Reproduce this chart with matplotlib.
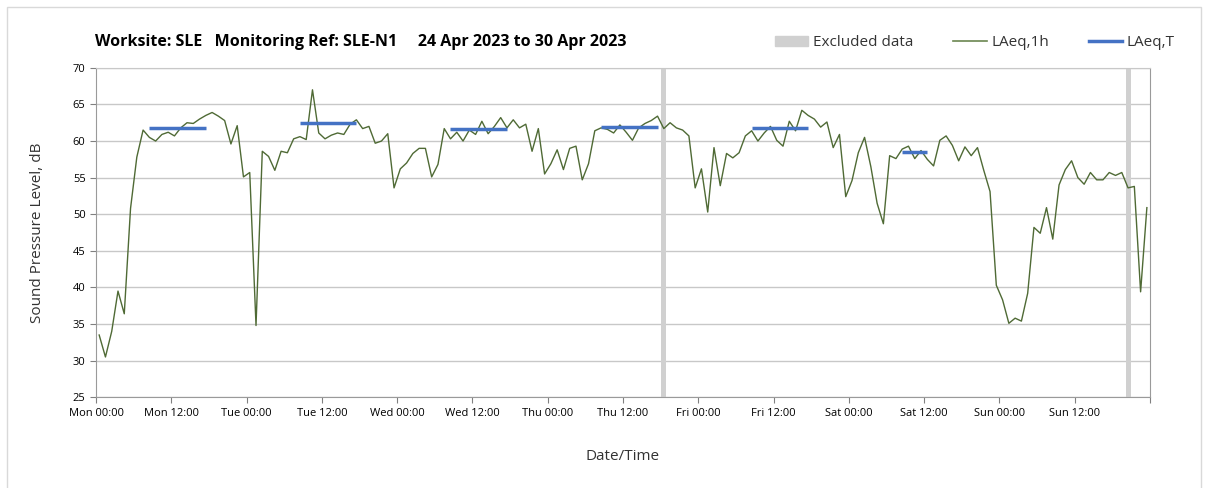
import matplotlib
matplotlib.use("Agg")
import matplotlib.pyplot as plt
import matplotlib.patches as mpatches
from matplotlib.lines import Line2D
import numpy as np

plt.rcParams['font.family'] = ['Open Sans', 'DejaVu Sans']

# hourly LAeq,1h values, Mon 24 Apr 00:00 onwards (one per hour)
laeq_1h = [
    33.5, 30.5, 34.0, 39.5, 36.4, 50.8, 57.8, 61.5, 60.5, 60.0, 60.9, 61.2,
    60.7, 61.8, 62.5, 62.4, 63.0, 63.5, 63.9, 63.4, 62.8, 59.6, 62.1, 55.1,
    55.7, 34.8, 58.6, 57.9, 56.0, 58.6, 58.4, 60.3, 60.6, 60.2, 67.0, 61.1,
    60.3, 60.8, 61.1, 60.9, 62.3, 62.9, 61.7, 62.0, 59.7, 60.0, 61.0, 53.6,
    56.2, 57.0, 58.3, 59.0, 59.0, 55.1, 56.8, 61.7, 60.3, 61.2, 60.0, 61.5,
    60.9, 62.7, 61.0, 62.0, 63.2, 61.8, 62.9, 61.8, 62.3, 58.6, 61.7, 55.5,
    56.9, 58.8, 56.1, 59.0, 59.3, 54.7, 56.9, 61.4, 61.8, 61.6, 61.1, 62.2,
    61.2, 60.1, 61.8, 62.4, 62.8, 63.4, 61.7, 62.5, 61.8, 61.5, 60.7, 53.6,
    56.2, 50.3, 59.1, 53.9, 58.3, 57.7, 58.4, 60.7, 61.4, 60.0, 61.1, 62.0,
    60.1, 59.3, 62.7, 61.4, 64.2, 63.5, 63.0, 61.9, 62.6, 59.1, 60.9, 52.4,
    54.6, 58.4, 60.5, 56.5, 51.5, 48.7, 58.0, 57.6, 58.9, 59.3, 57.6, 58.7,
    57.5, 56.6, 60.1, 60.7, 59.4, 57.3, 59.2, 58.0, 59.1, 56.0, 53.1, 40.3,
    38.3, 35.1, 35.8, 35.4, 39.2, 48.2, 47.4, 50.9, 46.6, 54.0, 56.1, 57.3,
    55.0, 54.1, 55.7, 54.7, 54.7, 55.7, 55.3, 55.7, 53.6, 53.8, 39.4, 50.9,
]

# LAeq,T periods (first and last hour index, inclusive) and levels
period_start = [8, 32, 56, 80, 104, 128]
period_end = [17, 41, 65, 89, 113, 132]
laeq_t = [61.8, 62.4, 61.6, 61.9, 61.8, 58.5]

# hours flagged as excluded data
excluded = [90, 164]

days = ['Mon', 'Tue', 'Wed', 'Thu', 'Fri', 'Sat', 'Sun']
tick_labels = []
for d in days:
    tick_labels.append(d + ' 00:00')
    tick_labels.append(d + ' 12:00')

green = '#4f6a35'
blue = '#4472c4'
grey = '#d0d0d0'

fig = plt.figure(figsize=(12.08, 4.88), dpi=100)
ax = fig.add_axes([0.0795, 0.186, 0.8725, 0.675])

hours = np.arange(len(laeq_1h)) + 0.5

for h in excluded:
    ax.axvspan(h + 0.1, h + 0.9, color=grey, lw=0, zorder=1)

ax.plot(hours, laeq_1h, color=green, lw=1.0, zorder=3)

for s, e, v in zip(period_start, period_end, laeq_t):
    ax.plot([s + 0.5, e + 0.5], [v, v], color=blue, lw=2.5, zorder=4,
            solid_capstyle='butt')

ax.set_xlim(0, 168)
ax.set_ylim(25, 70)
ax.set_yticks(np.arange(25, 71, 5))
ax.set_xticks(np.arange(0, 169, 12))
ax.set_xticklabels(tick_labels + [''], fontsize=8)
ax.tick_params(axis='y', labelsize=8, length=4, color='#808080')
ax.tick_params(axis='x', length=4, color='#808080')
ax.set_xticks(np.arange(0, 169, 24), minor=True)
ax.tick_params(axis='x', which='minor', length=0)

ax.grid(axis='y', color='#c8c8c8', lw=1)
ax.grid(axis='x', which='minor', color='#dadada', lw=1)
ax.grid(axis='x', which='major', visible=False)
ax.set_axisbelow(True)
for sp in ax.spines.values():
    sp.set_color('#9a9a9a')
ax.spines['top'].set_color('#c8c8c8')

ax.set_ylabel('Sound Pressure Level, dB', fontsize=11, color='#333333', labelpad=20)
ax.set_xlabel('Date/Time', fontsize=11, color='#333333', labelpad=22)

fig.text(0.079, 0.914, 'Worksite: SLE   Monitoring Ref: SLE-N1     24 Apr 2023 to 30 Apr 2023',
         fontsize=11.5, fontweight='bold', va='center', ha='left')

handles = [mpatches.Patch(color=grey),
           Line2D([], [], color='#6b8650', lw=1.2),
           Line2D([], [], color=blue, lw=2.5)]
fig.legend(handles, ['Excluded data', 'LAeq,1h', 'LAeq,T'], ncol=3, frameon=False,
           loc='center', bbox_to_anchor=(0.807, 0.912), fontsize=11,
           handlelength=2.2, handletextpad=0.3, columnspacing=2.6,
           labelcolor='#333333')

fig.patches.append(mpatches.Rectangle((0.006, -0.1), 0.988, 1.085, transform=fig.transFigure,
                                      fill=False, edgecolor='#d9d9d9', lw=1))

fig.savefig('out.png', dpi=100)
